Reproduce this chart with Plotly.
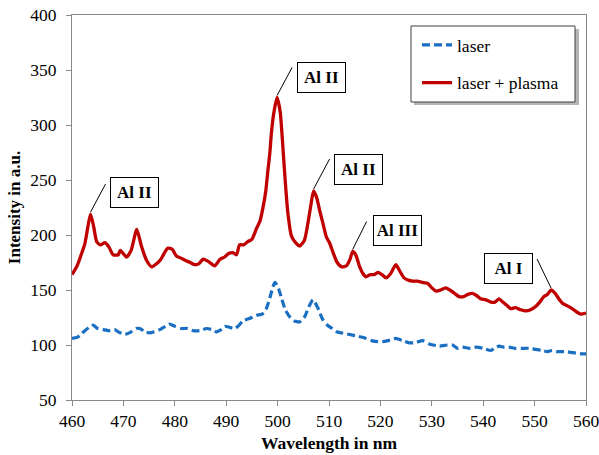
import plotly.graph_objects as go

# ---------------- data ----------------
plasma_x = [460, 461, 462, 462.5, 463, 463.6, 464.2, 464.8, 465.5, 466.4,
            467.2, 468, 469, 469.4, 470, 470.6, 471.5, 472.6, 473.5, 474.5,
            475.5, 476.5, 477.3, 478.6, 479.5, 480.3, 481.2, 482, 483, 483.9,
            484.7, 485.5, 486.5, 487.8, 488.8, 489.7, 490.4, 491.3, 492, 492.6,
            493.4, 494.2, 495, 495.9, 496.6, 497.2, 497.7, 498.1, 498.5, 498.8,
            499.3, 499.9, 500.5, 501, 501.5, 502, 502.7, 503.5, 504.3, 505.2,
            505.8, 506.4, 507.0, 507.6, 508.2, 508.8, 509.5, 510.1, 510.8, 511.6,
            512.5, 513.4, 514.1, 514.6, 515.2, 515.9, 516.6, 517.2, 518, 518.8,
            519.5, 520.3, 521.1, 522, 523, 523.8, 524.6, 525.4, 526.3, 527.2,
            528.1, 529.2, 530, 530.8, 531.7, 532.7, 533.5, 534.4, 535.3, 536.2,
            537, 537.9, 538.7, 539.5, 540.5, 541.5, 542.3, 543.1, 543.8, 544.6,
            545.4, 546.3, 547.3, 548.3, 549.2, 550.2, 551, 551.8, 552.5, 553.2,
            554, 554.7, 555.4, 556.2, 557.3, 558.2, 559, 560]
plasma_y = [164, 172, 185, 192, 205, 219, 208, 194, 191, 193,
            189, 182, 182, 186, 183, 180, 186, 205, 190, 177,
            171, 174, 178, 188, 187, 181, 179, 177, 175, 173,
            174, 178, 176, 172, 178, 180, 183, 184, 182, 191,
            191, 194, 196, 206, 213, 226, 240, 258, 275, 293,
            312, 325, 312, 282, 248, 220, 199, 193, 190, 195,
            208, 225, 240, 234, 222, 211, 198, 193, 184, 175,
            171, 172, 178, 185, 182, 172, 165, 162, 164, 164,
            166, 164, 161, 165, 173, 167, 161, 159, 158, 158,
            157, 156, 152, 149, 150, 152, 150, 147, 144, 144,
            146, 147, 145, 142, 141, 139, 139, 142, 139, 136,
            133, 134, 132, 131, 132, 135, 139, 144, 146, 150,
            147, 142, 138, 136, 133, 130, 128, 129]

laser_x = [460, 461, 461.6, 462.5, 463.3, 464.1, 465, 466.1, 467.4, 468.3,
           469, 470, 470.6, 471.5, 472.5, 473.2, 474.2, 475.1, 476, 477.1,
           478.2, 479, 480, 481.3, 482.5, 483.6, 484.8, 486.2, 487.2, 488.1,
           489, 489.7, 490.7, 491.7, 492.5, 493.3, 494.5, 495.9, 497, 497.8,
           498.5, 499.1, 499.5, 500.2, 500.8, 501.5, 502.3, 503.2, 504.3, 505.3,
           506.1, 506.9, 507.8, 508.8, 509.7, 510.6, 511.5, 512.4, 513.5, 514.6,
           515.6, 516.5, 517.2, 518.3, 519.5, 520.4, 521.5, 523, 524.3, 525.6,
           526.8, 528.2, 529.5, 531.5, 533, 534, 535, 536, 537.5, 538.6,
           540, 541.5, 542.2, 543.1, 544, 545, 546.3, 547.6, 549, 550.2,
           551.5, 552.5, 553.4, 554.5, 556, 557.5, 559.3, 560]
laser_y = [106, 107, 109, 113, 116, 118, 115, 114, 113, 114,
           112, 110, 110, 112, 115, 115, 112, 111, 112, 114,
           117, 119, 117, 115, 115, 113, 113, 115, 114, 112,
           114, 117, 116, 115, 118, 122, 124, 127, 128, 133,
           143, 153, 157, 151, 142, 132, 126, 122, 121, 126,
           135, 141, 134, 123, 118, 115, 112, 111, 110, 109,
           108, 107, 106, 104, 103, 103, 104, 106, 104, 102,
           102, 104, 101, 99, 100, 100, 97, 98, 97, 98,
           97, 95, 97, 99, 98, 98, 97, 97, 97, 96,
           95, 94, 95, 94, 94, 93, 92, 92]

series_names = ["laser", "laser + plasma"]
x_title = "Wavelength in nm"
y_title = "Intensity in a.u."

# peak labels: text, peak wavelength, label box centre (wavelength, intensity)
label_texts = ["Al II", "Al II", "Al II", "Al III", "Al I"]
label_peaks = [463.6, 499.9, 507.0, 514.6, 553.2]
label_box_x = [472.1, 508.6, 515.7, 523.3, 544.9]
label_box_y = [238.6, 343.2, 260.0, 204.0, 169.5]
leader_dx = [15, 15, 16, 14, -14]
leader_dy = [28, 28, 30, 28, 29]

x_ticks = [460, 470, 480, 490, 500, 510, 520, 530, 540, 550, 560]
y_ticks = [50, 100, 150, 200, 250, 300, 350, 400]

assert len(plasma_x) == len(plasma_y)
assert len(laser_x) == len(laser_y)

# ---------------- figure ----------------
SERIF = "'Liberation Serif', 'DejaVu Serif', 'Noto Serif', serif"
BLUE = "#1a6fc2"
RED = "#c00000"
AXIS = "#898989"

fig = go.Figure()
fig.add_trace(go.Scatter(x=laser_x, y=laser_y, mode="lines", name=series_names[0],
                         legendgroup="a",
                         line=dict(color=BLUE, width=3.2, dash="8px,4px",
                                   shape="spline", smoothing=0.6)))
fig.add_trace(go.Scatter(x=plasma_x, y=plasma_y, mode="lines", name=series_names[1],
                         legendgroup="b",
                         line=dict(color=RED, width=3.3, shape="spline", smoothing=0.6)))

W, H = 599, 455
ML, MR, MT, MB = 72, 13, 15, 55
pw, ph = W - ML - MR, H - MT - MB


def px2paper(px, py):
    return (px - ML) / pw, (H - MB - py) / ph


# legend frame + shadow
sx0, sy0 = px2paper(414, 105)
sx1, sy1 = px2paper(579, 29)
fig.add_shape(type="rect", xref="paper", yref="paper", x0=sx0, y0=sy0, x1=sx1, y1=sy1,
              fillcolor="#b5b5b5", line=dict(width=0), layer="above")
bx0, by0 = px2paper(411, 102)
bx1, by1 = px2paper(575, 26)
fig.add_shape(type="rect", xref="paper", yref="paper", x0=bx0, y0=by0, x1=bx1, y1=by1,
              fillcolor="white", line=dict(color="#404040", width=1), layer="above")

# peak labels
for txt, pk, bxv, byv, dx, dy in zip(label_texts, label_peaks, label_box_x, label_box_y,
                                     leader_dx, leader_dy):
    i = min(range(len(plasma_x)), key=lambda k: abs(plasma_x[k] - pk))
    px_, py_ = plasma_x[i], plasma_y[i]
    fig.add_shape(type="line", xref="x", yref="y", xsizemode="pixel", ysizemode="pixel",
                  xanchor=px_, yanchor=py_, x0=0, y0=2, x1=dx, y1=dy + 2,
                  line=dict(color="black", width=1), layer="above")
    fig.add_annotation(x=bxv, y=byv, xref="x", yref="y", text="<b>%s</b>" % txt,
                       showarrow=False, font=dict(family=SERIF, size=17, color="black"),
                       bgcolor="white", bordercolor="black", borderwidth=1,
                       borderpad=1, width=45, height=27)

# x-axis title as a positioned annotation
tx, ty = px2paper(329, 443)
fig.add_annotation(x=0.5, y=ty, xref="paper", yref="paper", text="<b>%s</b>" % x_title,
                   showarrow=False, xanchor="center", yanchor="middle",
                   font=dict(family=SERIF, size=17.5, color="black"))

lx, ly = px2paper(417, 27)
fig.update_layout(
    width=W, height=H,
    margin=dict(l=ML, r=MR, t=MT, b=MB, autoexpand=False),
    paper_bgcolor="white", plot_bgcolor="white",
    showlegend=True,
    legend=dict(x=lx, y=ly, xanchor="left", yanchor="top",
                bgcolor="rgba(0,0,0,0)", borderwidth=0,
                font=dict(family=SERIF, size=17.5, color="black"),
                traceorder="grouped", tracegroupgap=12, itemwidth=30),
    font=dict(family=SERIF, color="black"),
)
fig.update_xaxes(range=[460, 560], tickvals=x_ticks, ticks="outside", ticklen=5,
                 tickcolor=AXIS, showline=True, linecolor=AXIS, linewidth=1, mirror=True,
                 showgrid=False, zeroline=False, automargin=False,
                 ticklabeloverflow="allow",
                 tickfont=dict(family=SERIF, size=17.5, color="black"))
fig.update_yaxes(range=[50, 400], tickvals=y_ticks, ticks="outside", ticklen=5,
                 tickcolor=AXIS, showline=True, linecolor=AXIS, linewidth=1, mirror=True,
                 showgrid=False, zeroline=False, automargin=False, ticklabelstandoff=6,
                 ticklabeloverflow="allow",
                 tickfont=dict(family=SERIF, size=17.5, color="black"),
                 title=dict(text="<b>%s</b>" % y_title, standoff=5,
                            font=dict(family=SERIF, size=17, color="black")))

fig.write_html("out.html", config={"displayModeBar": False},
               post_script="document.body.style.margin='0';document.body.style.overflow='hidden';")
